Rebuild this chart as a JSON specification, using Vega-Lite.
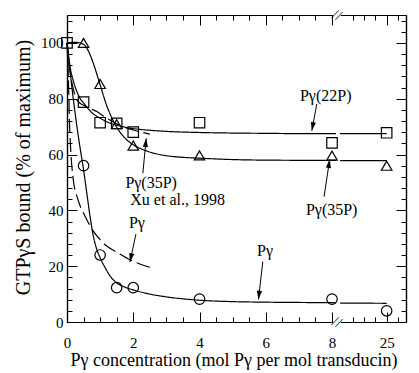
{
  "$schema": "https://vega.github.io/schema/vega-lite/v6.json",
  "width": 339,
  "height": 307,
  "autosize": {"type": "none"},
  "padding": {"left": 67, "top": 15, "right": 13, "bottom": 51},
  "config": {
    "font": "Times New Roman, Liberation Serif, DejaVu Serif, serif",
    "view": {"stroke": null},
    "text": {"font": "Times New Roman, Liberation Serif, DejaVu Serif, serif"},
    "axis": {"grid": false, "domainColor": "black", "domainWidth": 1.2, "tickColor": "black", "tickWidth": 1, "labelColor": "black", "titleColor": "black", "labelFontSize": 15, "titleFontWeight": "normal", "labelFont": "Times New Roman, Liberation Serif, DejaVu Serif, serif", "titleFont": "Times New Roman, Liberation Serif, DejaVu Serif, serif", "labelFlush": false, "labelOverlap": false, "labelBound": false}
  },
  "datasets": {
    "curves": [
      {"curve": "Pγ(22P)", "study": "this study", "seg": 1, "x": 0, "y": 100},
      {"curve": "Pγ(22P)", "study": "this study", "seg": 1, "x": 0.1, "y": 91},
      {"curve": "Pγ(22P)", "study": "this study", "seg": 1, "x": 0.2, "y": 86},
      {"curve": "Pγ(22P)", "study": "this study", "seg": 1, "x": 0.3, "y": 82.5},
      {"curve": "Pγ(22P)", "study": "this study", "seg": 1, "x": 0.4, "y": 80},
      {"curve": "Pγ(22P)", "study": "this study", "seg": 1, "x": 0.5, "y": 78.5},
      {"curve": "Pγ(22P)", "study": "this study", "seg": 1, "x": 0.75, "y": 75},
      {"curve": "Pγ(22P)", "study": "this study", "seg": 1, "x": 1, "y": 73},
      {"curve": "Pγ(22P)", "study": "this study", "seg": 1, "x": 1.25, "y": 71.5},
      {"curve": "Pγ(22P)", "study": "this study", "seg": 1, "x": 1.5, "y": 70.5},
      {"curve": "Pγ(22P)", "study": "this study", "seg": 1, "x": 1.75, "y": 69.8},
      {"curve": "Pγ(22P)", "study": "this study", "seg": 1, "x": 2, "y": 69.3},
      {"curve": "Pγ(22P)", "study": "this study", "seg": 1, "x": 2.5, "y": 68.7},
      {"curve": "Pγ(22P)", "study": "this study", "seg": 1, "x": 3, "y": 68.3},
      {"curve": "Pγ(22P)", "study": "this study", "seg": 1, "x": 4, "y": 67.9},
      {"curve": "Pγ(22P)", "study": "this study", "seg": 1, "x": 5, "y": 67.7},
      {"curve": "Pγ(22P)", "study": "this study", "seg": 1, "x": 6, "y": 67.6},
      {"curve": "Pγ(22P)", "study": "this study", "seg": 1, "x": 7, "y": 67.5},
      {"curve": "Pγ(22P)", "study": "this study", "seg": 1, "x": 8.12, "y": 67.5},
      {"curve": "Pγ(22P)", "study": "this study", "seg": 2, "x": 20.9, "y": 67.5},
      {"curve": "Pγ(22P)", "study": "this study", "seg": 2, "x": 25, "y": 67.5},

      {"curve": "Pγ(35P)", "study": "this study", "seg": 1, "x": 0, "y": 100},
      {"curve": "Pγ(35P)", "study": "this study", "seg": 1, "x": 0.25, "y": 100.2},
      {"curve": "Pγ(35P)", "study": "this study", "seg": 1, "x": 0.5, "y": 99.5},
      {"curve": "Pγ(35P)", "study": "this study", "seg": 1, "x": 0.65, "y": 97},
      {"curve": "Pγ(35P)", "study": "this study", "seg": 1, "x": 0.8, "y": 92.5},
      {"curve": "Pγ(35P)", "study": "this study", "seg": 1, "x": 1, "y": 85},
      {"curve": "Pγ(35P)", "study": "this study", "seg": 1, "x": 1.2, "y": 77.5},
      {"curve": "Pγ(35P)", "study": "this study", "seg": 1, "x": 1.4, "y": 72},
      {"curve": "Pγ(35P)", "study": "this study", "seg": 1, "x": 1.6, "y": 68},
      {"curve": "Pγ(35P)", "study": "this study", "seg": 1, "x": 1.8, "y": 65.3},
      {"curve": "Pγ(35P)", "study": "this study", "seg": 1, "x": 2, "y": 63.5},
      {"curve": "Pγ(35P)", "study": "this study", "seg": 1, "x": 2.4, "y": 61.3},
      {"curve": "Pγ(35P)", "study": "this study", "seg": 1, "x": 2.8, "y": 60},
      {"curve": "Pγ(35P)", "study": "this study", "seg": 1, "x": 3.5, "y": 59},
      {"curve": "Pγ(35P)", "study": "this study", "seg": 1, "x": 4, "y": 58.7},
      {"curve": "Pγ(35P)", "study": "this study", "seg": 1, "x": 5, "y": 58.2},
      {"curve": "Pγ(35P)", "study": "this study", "seg": 1, "x": 6, "y": 58},
      {"curve": "Pγ(35P)", "study": "this study", "seg": 1, "x": 8.12, "y": 57.9},
      {"curve": "Pγ(35P)", "study": "this study", "seg": 2, "x": 20.9, "y": 57.8},
      {"curve": "Pγ(35P)", "study": "this study", "seg": 2, "x": 25, "y": 57.8},

      {"curve": "Pγ", "study": "this study", "seg": 1, "x": 0, "y": 100},
      {"curve": "Pγ", "study": "this study", "seg": 1, "x": 0.1, "y": 89},
      {"curve": "Pγ", "study": "this study", "seg": 1, "x": 0.2, "y": 79},
      {"curve": "Pγ", "study": "this study", "seg": 1, "x": 0.3, "y": 70},
      {"curve": "Pγ", "study": "this study", "seg": 1, "x": 0.4, "y": 62},
      {"curve": "Pγ", "study": "this study", "seg": 1, "x": 0.5, "y": 54.5},
      {"curve": "Pγ", "study": "this study", "seg": 1, "x": 0.6, "y": 46},
      {"curve": "Pγ", "study": "this study", "seg": 1, "x": 0.7, "y": 37.5},
      {"curve": "Pγ", "study": "this study", "seg": 1, "x": 0.8, "y": 30.5},
      {"curve": "Pγ", "study": "this study", "seg": 1, "x": 0.9, "y": 26},
      {"curve": "Pγ", "study": "this study", "seg": 1, "x": 1, "y": 23},
      {"curve": "Pγ", "study": "this study", "seg": 1, "x": 1.15, "y": 19.5},
      {"curve": "Pγ", "study": "this study", "seg": 1, "x": 1.3, "y": 16.5},
      {"curve": "Pγ", "study": "this study", "seg": 1, "x": 1.5, "y": 14},
      {"curve": "Pγ", "study": "this study", "seg": 1, "x": 1.75, "y": 12.5},
      {"curve": "Pγ", "study": "this study", "seg": 1, "x": 2, "y": 11.5},
      {"curve": "Pγ", "study": "this study", "seg": 1, "x": 2.5, "y": 10},
      {"curve": "Pγ", "study": "this study", "seg": 1, "x": 3, "y": 9},
      {"curve": "Pγ", "study": "this study", "seg": 1, "x": 3.5, "y": 8.3},
      {"curve": "Pγ", "study": "this study", "seg": 1, "x": 4, "y": 7.8},
      {"curve": "Pγ", "study": "this study", "seg": 1, "x": 5, "y": 7.3},
      {"curve": "Pγ", "study": "this study", "seg": 1, "x": 6, "y": 7.1},
      {"curve": "Pγ", "study": "this study", "seg": 1, "x": 7, "y": 7},
      {"curve": "Pγ", "study": "this study", "seg": 1, "x": 8.12, "y": 6.9},
      {"curve": "Pγ", "study": "this study", "seg": 2, "x": 20.9, "y": 6.8},
      {"curve": "Pγ", "study": "this study", "seg": 2, "x": 25, "y": 6.7},

      {"curve": "Pγ Xu", "study": "Xu et al., 1998", "seg": 1, "x": 0, "y": 100},
      {"curve": "Pγ Xu", "study": "Xu et al., 1998", "seg": 1, "x": 0.04, "y": 88},
      {"curve": "Pγ Xu", "study": "Xu et al., 1998", "seg": 1, "x": 0.08, "y": 70},
      {"curve": "Pγ Xu", "study": "Xu et al., 1998", "seg": 1, "x": 0.12, "y": 60},
      {"curve": "Pγ Xu", "study": "Xu et al., 1998", "seg": 1, "x": 0.17, "y": 53},
      {"curve": "Pγ Xu", "study": "Xu et al., 1998", "seg": 1, "x": 0.22, "y": 48.5},
      {"curve": "Pγ Xu", "study": "Xu et al., 1998", "seg": 1, "x": 0.3, "y": 45},
      {"curve": "Pγ Xu", "study": "Xu et al., 1998", "seg": 1, "x": 0.4, "y": 41.5},
      {"curve": "Pγ Xu", "study": "Xu et al., 1998", "seg": 1, "x": 0.5, "y": 39},
      {"curve": "Pγ Xu", "study": "Xu et al., 1998", "seg": 1, "x": 0.65, "y": 35.5},
      {"curve": "Pγ Xu", "study": "Xu et al., 1998", "seg": 1, "x": 0.8, "y": 32.5},
      {"curve": "Pγ Xu", "study": "Xu et al., 1998", "seg": 1, "x": 1, "y": 29.5},
      {"curve": "Pγ Xu", "study": "Xu et al., 1998", "seg": 1, "x": 1.2, "y": 27.2},
      {"curve": "Pγ Xu", "study": "Xu et al., 1998", "seg": 1, "x": 1.5, "y": 25},
      {"curve": "Pγ Xu", "study": "Xu et al., 1998", "seg": 1, "x": 1.9, "y": 22.3},
      {"curve": "Pγ Xu", "study": "Xu et al., 1998", "seg": 1, "x": 2.2, "y": 20.8},
      {"curve": "Pγ Xu", "study": "Xu et al., 1998", "seg": 1, "x": 2.5, "y": 19.6},

      {"curve": "Pγ(35P) Xu", "study": "Xu et al., 1998", "seg": 1, "x": 0, "y": 100},
      {"curve": "Pγ(35P) Xu", "study": "Xu et al., 1998", "seg": 1, "x": 0.1, "y": 89},
      {"curve": "Pγ(35P) Xu", "study": "Xu et al., 1998", "seg": 1, "x": 0.2, "y": 83},
      {"curve": "Pγ(35P) Xu", "study": "Xu et al., 1998", "seg": 1, "x": 0.3, "y": 79.5},
      {"curve": "Pγ(35P) Xu", "study": "Xu et al., 1998", "seg": 1, "x": 0.6, "y": 77},
      {"curve": "Pγ(35P) Xu", "study": "Xu et al., 1998", "seg": 1, "x": 0.9, "y": 75.4},
      {"curve": "Pγ(35P) Xu", "study": "Xu et al., 1998", "seg": 1, "x": 1.2, "y": 73},
      {"curve": "Pγ(35P) Xu", "study": "Xu et al., 1998", "seg": 1, "x": 1.5, "y": 71},
      {"curve": "Pγ(35P) Xu", "study": "Xu et al., 1998", "seg": 1, "x": 2, "y": 68.8},
      {"curve": "Pγ(35P) Xu", "study": "Xu et al., 1998", "seg": 1, "x": 2.5, "y": 67.3}
    ],
    "points": [
      {"series": "Pγ(22P)", "x": 0, "y": 100},
      {"series": "Pγ(22P)", "x": 0.5, "y": 78.8},
      {"series": "Pγ(22P)", "x": 1, "y": 71.4},
      {"series": "Pγ(22P)", "x": 1.5, "y": 71.2},
      {"series": "Pγ(22P)", "x": 2, "y": 68},
      {"series": "Pγ(22P)", "x": 4, "y": 71.4},
      {"series": "Pγ(22P)", "x": 8, "y": 64.2},
      {"series": "Pγ(22P)", "x": 25, "y": 67.8},
      {"series": "Pγ(35P)", "x": 0.5, "y": 100},
      {"series": "Pγ(35P)", "x": 1, "y": 85.3},
      {"series": "Pγ(35P)", "x": 1.5, "y": 70.9},
      {"series": "Pγ(35P)", "x": 2, "y": 63.2},
      {"series": "Pγ(35P)", "x": 4, "y": 59.7},
      {"series": "Pγ(35P)", "x": 8, "y": 59.6},
      {"series": "Pγ(35P)", "x": 25, "y": 56},
      {"series": "Pγ", "x": 0.5, "y": 56},
      {"series": "Pγ", "x": 1, "y": 24},
      {"series": "Pγ", "x": 1.5, "y": 12.3},
      {"series": "Pγ", "x": 2, "y": 12.3},
      {"series": "Pγ", "x": 4, "y": 8.2},
      {"series": "Pγ", "x": 8, "y": 8.2},
      {"series": "Pγ", "x": 25, "y": 4}
    ],
    "arrows": [
      {"label": "Pγ(22P)", "x0": 7.54, "y0": 78.1, "x1": 7.39, "y1": 68.5},
      {"label": "Pγ(35P)", "x0": 7.76, "y0": 44.9, "x1": 7.93, "y1": 58.3},
      {"label": "Pγ(35P) Xu", "x0": 2.29, "y0": 53.3, "x1": 2.39, "y1": 65.8},
      {"label": "Pγ Xu", "x0": 2.08, "y0": 31.5, "x1": 1.9, "y1": 21.5},
      {"label": "Pγ", "x0": 5.91, "y0": 21.6, "x1": 5.78, "y1": 8.1}
    ],
    "notes": [
      {"label": "Pγ(22P)", "x": 7.81, "y": 81},
      {"label": "Pγ(35P)", "x": 7.99, "y": 40.1},
      {"label": "Pγ(35P)", "x": 2.54, "y": 49.8},
      {"label": "Xu et al., 1998", "x": 3.34, "y": 43.7},
      {"label": "Pγ", "x": 2.11, "y": 35.5},
      {"label": "Pγ", "x": 5.98, "y": 25.4}
    ],
    "breaks": [
      {"x": 11.3, "y": 0},
      {"x": 11.3, "y": 110}
    ]
  },
  "resolve": {"scale": {"x": "shared", "y": "shared"}, "axis": {"x": "independent", "y": "independent"}},
  "layer": [
    {
      "data": {"name": "curves"},
      "mark": {"type": "line", "color": "black", "strokeWidth": 1.2, "interpolate": "monotone"},
      "encoding": {
        "x": {"field": "x", "type": "quantitative",
          "scale": {"type": "linear", "domain": [0, 8.12, 20.9, 26.7], "range": [0, 269, 273, 339], "nice": false, "zero": false},
          "axis": {"orient": "bottom", "values": [0, 2, 4, 6, 8, 25], "format": "d", "tickSize": -10, "labelPadding": 23, "title": "Pγ concentration (mol Pγ per mol transducin)", "titleFontSize": 18, "titleX": 166.5, "titleY": 43, "titleBaseline": "alphabetic", "titleAlign": "center"}},
        "y": {"field": "y", "type": "quantitative",
          "scale": {"domain": [0, 110], "nice": false, "zero": true},
          "axis": {"orient": "left", "values": [0, 20, 40, 60, 80, 100], "format": "d", "tickSize": -10, "labelPadding": 14, "title": "GTPγS bound (% of maximum)", "titleFontSize": 20, "titleX": -38, "titleY": 152, "titleAngle": -90, "titleBaseline": "alphabetic", "titleAlign": "center"}},
        "detail": [{"field": "curve"}, {"field": "seg"}],
        "strokeDash": {"field": "study", "type": "nominal", "scale": {"domain": ["this study", "Xu et al., 1998"], "range": [[1, 0], [14, 5]]}, "legend": null}
      }
    },
    {
      "data": {"name": "points"},
      "mark": {"type": "point", "filled": false, "color": "black", "strokeWidth": 1.2, "size": 110, "opacity": 1},
      "encoding": {
        "x": {"field": "x", "type": "quantitative",
          "scale": {"type": "linear", "domain": [0, 8.12, 20.9, 26.7], "range": [0, 269, 273, 339], "nice": false, "zero": false},
          "axis": {"orient": "bottom", "values": [0.5, 1, 1.5, 2.5, 3, 3.5, 4.5, 5, 5.5, 6.5, 7, 7.5, 22, 23, 24, 26], "tickSize": -5, "labels": false, "title": null}},
        "y": {"field": "y", "type": "quantitative",
          "scale": {"domain": [0, 110], "nice": false, "zero": true},
          "axis": {"orient": "left", "values": [4, 8, 12, 16, 24, 28, 32, 36, 44, 48, 52, 56, 64, 68, 72, 76, 84, 88, 92, 96, 104, 108], "tickSize": -5, "labels": false, "title": null}},
        "shape": {"field": "series", "type": "nominal", "scale": {"domain": ["Pγ(22P)", "Pγ(35P)", "Pγ"], "range": ["square", "triangle-up", "circle"]}, "legend": null}
      }
    },
    {
      "data": {"name": "arrows"},
      "mark": {"type": "rule", "color": "black", "strokeWidth": 1},
      "encoding": {
        "x": {"field": "x0", "type": "quantitative",
          "scale": {"type": "linear", "domain": [0, 8.12, 20.9, 26.7], "range": [0, 269, 273, 339], "nice": false, "zero": false},
          "axis": {"orient": "top", "values": [0, 2, 4, 6, 8, 25], "tickSize": -10, "labels": false, "title": null}},
        "y": {"field": "y0", "type": "quantitative",
          "scale": {"domain": [0, 110], "nice": false, "zero": true},
          "axis": {"orient": "right", "values": [0, 20, 40, 60, 80, 100], "tickSize": -10, "labels": false, "title": null}},
        "x2": {"field": "x1"},
        "y2": {"field": "y1"}
      }
    },
    {
      "data": {"name": "arrows"},
      "mark": {"type": "point", "filled": true, "color": "black", "opacity": 1, "size": 300, "shape": "M0,0L-0.3,-1L0.3,-1Z"},
      "encoding": {
        "x": {"field": "x1", "type": "quantitative",
          "scale": {"type": "linear", "domain": [0, 8.12, 20.9, 26.7], "range": [0, 269, 273, 339], "nice": false, "zero": false}, "axis": null},
        "y": {"field": "y1", "type": "quantitative",
          "scale": {"domain": [0, 110], "nice": false, "zero": true}, "axis": null},
        "angle": {"value": {"expr": "atan2(-(scale('x', datum.x1) - scale('x', datum.x0)), scale('y', datum.y1) - scale('y', datum.y0)) * 180 / PI"}}
      }
    },
    {
      "data": {"name": "notes"},
      "mark": {"type": "text", "fontSize": 16, "align": "center", "baseline": "middle", "color": "black", "font": "Times New Roman, Liberation Serif, DejaVu Serif, serif"},
      "encoding": {
        "x": {"field": "x", "type": "quantitative",
          "scale": {"type": "linear", "domain": [0, 8.12, 20.9, 26.7], "range": [0, 269, 273, 339], "nice": false, "zero": false},
          "axis": {"orient": "top", "values": [0.5, 1, 1.5, 2.5, 3, 3.5, 4.5, 5, 5.5, 6.5, 7, 7.5, 22, 23, 24, 26], "tickSize": -5, "labels": false, "title": null}},
        "y": {"field": "y", "type": "quantitative",
          "scale": {"domain": [0, 110], "nice": false, "zero": true},
          "axis": {"orient": "right", "values": [4, 8, 12, 16, 24, 28, 32, 36, 44, 48, 52, 56, 64, 68, 72, 76, 84, 88, 92, 96, 104, 108], "tickSize": -5, "labels": false, "title": null}},
        "text": {"field": "label"}
      }
    },
    {
      "data": {"name": "breaks"},
      "mark": {"type": "point", "filled": true, "color": "white", "opacity": 1, "size": 60, "shape": "square", "strokeWidth": 0},
      "encoding": {
        "x": {"field": "x", "type": "quantitative",
          "scale": {"type": "linear", "domain": [0, 8.12, 20.9, 26.7], "range": [0, 269, 273, 339], "nice": false, "zero": false}, "axis": null},
        "y": {"field": "y", "type": "quantitative",
          "scale": {"domain": [0, 110], "nice": false, "zero": true}, "axis": null}
      }
    },
    {
      "data": {"name": "breaks"},
      "mark": {"type": "text", "text": "//", "fontSize": 15, "angle": 25, "align": "center", "baseline": "middle", "color": "black", "font": "Times New Roman, Liberation Serif, DejaVu Serif, serif"},
      "encoding": {
        "x": {"field": "x", "type": "quantitative",
          "scale": {"type": "linear", "domain": [0, 8.12, 20.9, 26.7], "range": [0, 269, 273, 339], "nice": false, "zero": false}, "axis": null},
        "y": {"field": "y", "type": "quantitative",
          "scale": {"domain": [0, 110], "nice": false, "zero": true}, "axis": null}
      }
    }
  ]
}
